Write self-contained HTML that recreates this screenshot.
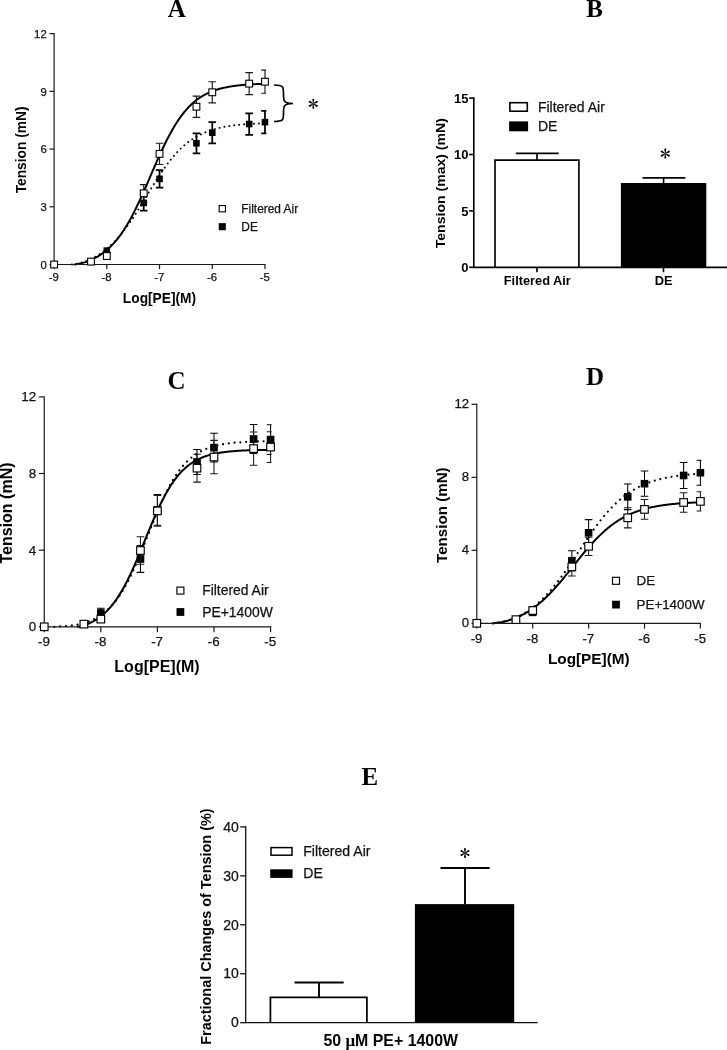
<!DOCTYPE html>
<html><head><meta charset="utf-8"><title>Figure</title>
<style>html,body{margin:0;padding:0;background:#fff}svg{display:block}</style>
</head><body>
<svg width="727" height="1050" viewBox="0 0 727 1050">
<rect width="727" height="1050" fill="#fff"/>
<g opacity="0.999">
<text transform="translate(176.7 16.7)" font-family="Liberation Serif" font-size="25" font-weight="bold" text-anchor="middle">A</text>
<text transform="translate(594.6 16.5)" font-family="Liberation Serif" font-size="25" font-weight="bold" text-anchor="middle">B</text>
<text transform="translate(176.6 388.6)" font-family="Liberation Serif" font-size="25" font-weight="bold" text-anchor="middle">C</text>
<text transform="translate(595.1 384.7)" font-family="Liberation Serif" font-size="25" font-weight="bold" text-anchor="middle">D</text>
<text transform="translate(369.9 785.2)" font-family="Liberation Serif" font-size="25" font-weight="bold" text-anchor="middle">E</text>
<path d="M72.02,264.5 L72.99,264.38 L73.96,264.25 L74.93,264.09 L75.9,263.93 L76.87,263.74 L77.84,263.54 L78.81,263.31 L79.78,263.08 L80.75,262.82 L81.72,262.54 L82.69,262.25 L83.66,261.94 L84.63,261.61 L85.6,261.26 L86.57,260.9 L87.54,260.51 L88.51,260.11 L89.48,259.68 L90.45,259.24 L91.42,258.78 L92.39,258.3 L93.36,257.8 L94.33,257.28 L95.3,256.73 L96.27,256.17 L97.24,255.59 L98.2,254.99 L99.17,254.37 L100.14,253.73 L101.11,253.07 L102.08,252.38 L103.05,251.68 L104.02,250.95 L104.99,250.21 L105.96,249.44 L106.93,248.65 L107.9,247.84 L108.87,247 L109.84,246.14 L110.81,245.25 L111.78,244.33 L112.75,243.39 L113.72,242.42 L114.69,241.43 L115.66,240.41 L116.63,239.36 L117.6,238.29 L118.57,237.19 L119.54,236.06 L120.51,234.91 L121.48,233.73 L122.45,232.52 L123.41,231.29 L124.38,230.03 L125.35,228.75 L126.32,227.44 L127.29,226.11 L128.26,224.76 L129.23,223.38 L130.2,221.98 L131.17,220.56 L132.14,219.12 L133.11,217.66 L134.08,216.18 L135.05,214.68 L136.02,213.17 L136.99,211.64 L137.96,210.1 L138.93,208.55 L139.9,206.99 L140.87,205.41 L141.84,203.83 L142.81,202.24 L143.78,200.64 L144.75,199.05 L145.72,197.44 L146.69,195.84 L147.66,194.24 L148.63,192.64 L149.59,191.04 L150.56,189.45 L151.53,187.87 L152.5,186.29 L153.47,184.72 L154.44,183.16 L155.41,181.62 L156.38,180.09 L157.35,178.57 L158.32,177.07 L159.29,175.58 L160.26,174.12 L161.23,172.67 L162.2,171.24 L163.17,169.83 L164.14,168.45 L165.11,167.09 L166.08,165.75 L167.05,164.43 L168.02,163.14 L168.99,161.87 L169.96,160.63 L170.93,159.42 L171.9,158.23 L172.87,157.07 L173.84,155.93 L174.8,154.82 L175.77,153.74 L176.74,152.68 L177.71,151.65 L178.68,150.65 L179.65,149.68 L180.62,148.73 L181.59,147.8 L182.56,146.9 L183.53,146.03 L184.5,145.19 L185.47,144.37 L186.44,143.57 L187.41,142.8 L188.38,142.05 L189.35,141.32 L190.32,140.62 L191.29,139.94 L192.26,139.28 L193.23,138.65 L194.2,138.03 L195.17,137.44 L196.14,136.87 L197.11,136.31 L198.08,135.78 L199.05,135.26 L200.02,134.76 L200.98,134.28 L201.95,133.82 L202.92,133.38 L203.89,132.95 L204.86,132.53 L205.83,132.13 L206.8,131.75 L207.77,131.38 L208.74,131.02 L209.71,130.68 L210.68,130.35 L211.65,130.03 L212.62,129.73 L213.59,129.43 L214.56,129.15 L215.53,128.88 L216.5,128.62 L217.47,128.37 L218.44,128.13 L219.41,127.9 L220.38,127.67 L221.35,127.46 L222.32,127.26 L223.29,127.06 L224.26,126.87 L225.23,126.69 L226.2,126.51 L227.16,126.35 L228.13,126.19 L229.1,126.03 L230.07,125.88 L231.04,125.74 L232.01,125.61 L232.98,125.48 L233.95,125.35 L234.92,125.23 L235.89,125.12 L236.86,125.01 L237.83,124.9 L238.8,124.8 L239.77,124.7 L240.74,124.61 L241.71,124.52 L242.68,124.43 L243.65,124.35 L244.62,124.27 L245.59,124.2 L246.56,124.12 L247.53,124.05 L248.5,123.99 L249.47,123.92 L250.44,123.86 L251.41,123.8 L252.37,123.75 L253.34,123.69 L254.31,123.64 L255.28,123.59 L256.25,123.55 L257.22,123.5 L258.19,123.46 L259.16,123.42 L260.13,123.38 L261.1,123.34 L262.07,123.3 L263.04,123.27 L264.01,123.23 L264.98,123.2" fill="none" stroke="#000" stroke-width="2" stroke-dasharray="0.01 4.95" stroke-linecap="round"/>
<path d="M74.13,264.5 L75.09,264.39 L76.05,264.26 L77.01,264.11 L77.97,263.95 L78.93,263.77 L79.89,263.58 L80.85,263.37 L81.81,263.14 L82.76,262.9 L83.72,262.63 L84.68,262.35 L85.64,262.05 L86.6,261.73 L87.56,261.39 L88.52,261.03 L89.48,260.66 L90.44,260.26 L91.4,259.84 L92.36,259.4 L93.31,258.94 L94.27,258.45 L95.23,257.95 L96.19,257.42 L97.15,256.87 L98.11,256.3 L99.07,255.71 L100.03,255.09 L100.99,254.44 L101.95,253.78 L102.9,253.09 L103.86,252.37 L104.82,251.63 L105.78,250.86 L106.74,250.07 L107.7,249.25 L108.66,248.39 L109.62,247.51 L110.58,246.59 L111.54,245.64 L112.49,244.65 L113.45,243.62 L114.41,242.56 L115.37,241.47 L116.33,240.33 L117.29,239.16 L118.25,237.94 L119.21,236.69 L120.17,235.4 L121.13,234.07 L122.08,232.69 L123.04,231.28 L124,229.82 L124.96,228.33 L125.92,226.79 L126.88,225.21 L127.84,223.59 L128.8,221.93 L129.76,220.23 L130.72,218.49 L131.68,216.72 L132.63,214.9 L133.59,213.05 L134.55,211.16 L135.51,209.24 L136.47,207.28 L137.43,205.29 L138.39,203.28 L139.35,201.23 L140.31,199.15 L141.27,197.05 L142.22,194.93 L143.18,192.79 L144.14,190.63 L145.1,188.45 L146.06,186.26 L147.02,184.05 L147.98,181.84 L148.94,179.62 L149.9,177.39 L150.86,175.17 L151.81,172.94 L152.77,170.72 L153.73,168.51 L154.69,166.3 L155.65,164.1 L156.61,161.92 L157.57,159.75 L158.53,157.6 L159.49,155.47 L160.45,153.37 L161.41,151.29 L162.36,149.23 L163.32,147.2 L164.28,145.21 L165.24,143.24 L166.2,141.31 L167.16,139.41 L168.12,137.55 L169.08,135.72 L170.04,133.93 L171,132.18 L171.95,130.47 L172.91,128.8 L173.87,127.17 L174.83,125.58 L175.79,124.03 L176.75,122.52 L177.71,121.06 L178.67,119.63 L179.63,118.25 L180.59,116.9 L181.54,115.6 L182.5,114.33 L183.46,113.11 L184.42,111.92 L185.38,110.78 L186.34,109.67 L187.3,108.6 L188.26,107.56 L189.22,106.57 L190.18,105.6 L191.13,104.67 L192.09,103.78 L193.05,102.92 L194.01,102.09 L194.97,101.29 L195.93,100.52 L196.89,99.78 L197.85,99.07 L198.81,98.38 L199.77,97.73 L200.73,97.1 L201.68,96.49 L202.64,95.91 L203.6,95.36 L204.56,94.82 L205.52,94.31 L206.48,93.82 L207.44,93.35 L208.4,92.9 L209.36,92.46 L210.32,92.05 L211.27,91.65 L212.23,91.27 L213.19,90.91 L214.15,90.56 L215.11,90.23 L216.07,89.91 L217.03,89.61 L217.99,89.32 L218.95,89.04 L219.91,88.77 L220.86,88.52 L221.82,88.28 L222.78,88.04 L223.74,87.82 L224.7,87.61 L225.66,87.41 L226.62,87.21 L227.58,87.03 L228.54,86.85 L229.5,86.68 L230.46,86.52 L231.41,86.37 L232.37,86.22 L233.33,86.08 L234.29,85.95 L235.25,85.82 L236.21,85.7 L237.17,85.58 L238.13,85.47 L239.09,85.37 L240.05,85.27 L241,85.17 L241.96,85.08 L242.92,84.99 L243.88,84.91 L244.84,84.83 L245.8,84.75 L246.76,84.68 L247.72,84.61 L248.68,84.54 L249.64,84.48 L250.59,84.42 L251.55,84.36 L252.51,84.31 L253.47,84.26 L254.43,84.21 L255.39,84.16 L256.35,84.11 L257.31,84.07 L258.27,84.03 L259.23,83.99 L260.18,83.95 L261.14,83.92 L262.1,83.88 L263.06,83.85 L264.02,83.82 L264.98,83.79" fill="none" stroke="#000" stroke-width="2"/>
<path d="M54.1,33.12 V264.5 H265.58" fill="none" stroke="#1a1a1a" stroke-width="1.2"/>
<path d="M54.1,264.5 h-4.6" stroke="#1a1a1a" stroke-width="1.2"/>
<text transform="translate(46.7 268.69)" font-family="Liberation Sans" font-size="11.3" text-anchor="end" fill="#111" stroke="#111" stroke-width="0.25">0</text>
<path d="M54.1,206.78 h-4.6" stroke="#1a1a1a" stroke-width="1.2"/>
<text transform="translate(46.7 210.97)" font-family="Liberation Sans" font-size="11.3" text-anchor="end" fill="#111" stroke="#111" stroke-width="0.25">3</text>
<path d="M54.1,149.06 h-4.6" stroke="#1a1a1a" stroke-width="1.2"/>
<text transform="translate(46.7 153.25)" font-family="Liberation Sans" font-size="11.3" text-anchor="end" fill="#111" stroke="#111" stroke-width="0.25">6</text>
<path d="M54.1,91.34 h-4.6" stroke="#1a1a1a" stroke-width="1.2"/>
<text transform="translate(46.7 95.53)" font-family="Liberation Sans" font-size="11.3" text-anchor="end" fill="#111" stroke="#111" stroke-width="0.25">9</text>
<path d="M54.1,33.62 h-4.6" stroke="#1a1a1a" stroke-width="1.2"/>
<text transform="translate(46.7 37.81)" font-family="Liberation Sans" font-size="11.3" text-anchor="end" fill="#111" stroke="#111" stroke-width="0.25">12</text>
<path d="M54.1,264.5 v4.6" stroke="#1a1a1a" stroke-width="1.2"/>
<text transform="translate(53.8 281.34)" font-family="Liberation Sans" font-size="11.3" text-anchor="middle" fill="#111" stroke="#111" stroke-width="0.25">-9</text>
<path d="M106.82,264.5 v4.6" stroke="#1a1a1a" stroke-width="1.2"/>
<text transform="translate(106.52 281.34)" font-family="Liberation Sans" font-size="11.3" text-anchor="middle" fill="#111" stroke="#111" stroke-width="0.25">-8</text>
<path d="M159.54,264.5 v4.6" stroke="#1a1a1a" stroke-width="1.2"/>
<text transform="translate(159.24 281.34)" font-family="Liberation Sans" font-size="11.3" text-anchor="middle" fill="#111" stroke="#111" stroke-width="0.25">-7</text>
<path d="M212.26,264.5 v4.6" stroke="#1a1a1a" stroke-width="1.2"/>
<text transform="translate(211.96 281.34)" font-family="Liberation Sans" font-size="11.3" text-anchor="middle" fill="#111" stroke="#111" stroke-width="0.25">-6</text>
<path d="M264.98,264.5 v4.6" stroke="#1a1a1a" stroke-width="1.2"/>
<text transform="translate(264.68 281.34)" font-family="Liberation Sans" font-size="11.3" text-anchor="middle" fill="#111" stroke="#111" stroke-width="0.25">-5</text>
<text transform="translate(25.8 149.9) rotate(-90)" font-family="Liberation Sans" font-size="13.75" font-weight="bold" text-anchor="middle">Tension (mN)</text>
<text transform="translate(159.5 302.7)" font-family="Liberation Sans" font-size="13.75" font-weight="bold" text-anchor="middle">Log[PE](M)</text>
<path d="M143.72,195.24 V210.63 M139.92,195.24 H147.52 M139.92,210.63 H147.52" fill="none" stroke="#000" stroke-width="1.75"/>
<path d="M159.54,170.22 V187.54 M155.74,170.22 H163.34 M155.74,187.54 H163.34" fill="none" stroke="#000" stroke-width="1.75"/>
<path d="M196.44,133.28 V153.29 M192.64,133.28 H200.24 M192.64,153.29 H200.24" fill="none" stroke="#000" stroke-width="1.75"/>
<path d="M212.26,122.12 V143.29 M208.46,122.12 H216.06 M208.46,143.29 H216.06" fill="none" stroke="#000" stroke-width="1.75"/>
<path d="M249.16,113.27 V134.82 M245.36,113.27 H252.96 M245.36,134.82 H252.96" fill="none" stroke="#000" stroke-width="1.75"/>
<path d="M264.98,110.96 V133.28 M261.18,110.96 H266.36 M261.18,133.28 H266.36" fill="none" stroke="#000" stroke-width="1.75"/>
<rect x="103.52" y="247.35" width="6.6" height="6.6" fill="#000"/>
<rect x="140.42" y="199.63" width="6.6" height="6.6" fill="#000"/>
<rect x="156.24" y="175.58" width="6.6" height="6.6" fill="#000"/>
<rect x="193.14" y="139.99" width="6.6" height="6.6" fill="#000"/>
<rect x="208.96" y="129.41" width="6.6" height="6.6" fill="#000"/>
<rect x="245.86" y="120.75" width="6.6" height="6.6" fill="#000"/>
<rect x="261.68" y="118.82" width="6.6" height="6.6" fill="#000"/>
<path d="M143.72,184.65 V201.97 M139.92,184.65 H147.52 M139.92,201.97 H147.52" fill="none" stroke="#1a1a1a" stroke-width="1.15"/>
<path d="M159.54,143.29 V164.45 M155.74,143.29 H163.34 M155.74,164.45 H163.34" fill="none" stroke="#1a1a1a" stroke-width="1.15"/>
<path d="M196.44,96.15 V117.31 M192.64,96.15 H200.24 M192.64,117.31 H200.24" fill="none" stroke="#1a1a1a" stroke-width="1.15"/>
<path d="M212.26,81.72 V102.88 M208.46,81.72 H216.06 M208.46,102.88 H216.06" fill="none" stroke="#1a1a1a" stroke-width="1.15"/>
<path d="M249.16,72.68 V94.61 M245.36,72.68 H252.96 M245.36,94.61 H252.96" fill="none" stroke="#1a1a1a" stroke-width="1.15"/>
<path d="M264.98,70.18 V93.26 M261.18,70.18 H266.06 M261.18,93.26 H266.06" fill="none" stroke="#1a1a1a" stroke-width="1.15"/>
<rect x="50.7" y="261.1" width="6.8" height="6.8" fill="#fff" stroke="#000" stroke-width="1.1"/>
<rect x="87.6" y="258.21" width="6.8" height="6.8" fill="#fff" stroke="#000" stroke-width="1.1"/>
<rect x="103.42" y="252.63" width="6.8" height="6.8" fill="#fff" stroke="#000" stroke-width="1.1"/>
<rect x="140.32" y="189.91" width="6.8" height="6.8" fill="#fff" stroke="#000" stroke-width="1.1"/>
<rect x="156.14" y="150.47" width="6.8" height="6.8" fill="#fff" stroke="#000" stroke-width="1.1"/>
<rect x="193.04" y="103.33" width="6.8" height="6.8" fill="#fff" stroke="#000" stroke-width="1.1"/>
<rect x="208.86" y="88.9" width="6.8" height="6.8" fill="#fff" stroke="#000" stroke-width="1.1"/>
<rect x="245.76" y="80.24" width="6.8" height="6.8" fill="#fff" stroke="#000" stroke-width="1.1"/>
<rect x="261.58" y="78.32" width="6.8" height="6.8" fill="#fff" stroke="#000" stroke-width="1.1"/>
<rect x="219.15" y="205.55" width="6.3" height="6.3" fill="#fff" stroke="#000" stroke-width="1.1"/>
<rect x="218.75" y="223.15" width="7.1" height="7.1" fill="#000"/>
<text transform="translate(241.3 212.63)" font-family="Liberation Sans" font-size="11.9" text-anchor="start" fill="#111" stroke="#111" stroke-width="0.25">Filtered Air</text>
<text transform="translate(241.3 230.63)" font-family="Liberation Sans" font-size="11.9" text-anchor="start" fill="#111" stroke="#111" stroke-width="0.25">DE</text>
<path d="M274,85 C284,85 283.5,87 283.5,95 C283.5,101 284,103.5 293,103.5 C284,103.5 283.5,106 283.5,112 C283.5,120 284,121.5 274,121.5" fill="none" stroke="#000" stroke-width="1.7"/>
<g transform="translate(313.3 103.8) scale(5.1)" fill="#000"><path d="M-0.06,-0.05 L-0.19,-0.78 Q-0.21,-1.0 0,-1.0 Q0.21,-1.0 0.19,-0.78 L0.06,-0.05 Z" transform="rotate(0)"/><path d="M-0.06,-0.05 L-0.19,-0.78 Q-0.21,-1.0 0,-1.0 Q0.21,-1.0 0.19,-0.78 L0.06,-0.05 Z" transform="rotate(60)"/><path d="M-0.06,-0.05 L-0.19,-0.78 Q-0.21,-1.0 0,-1.0 Q0.21,-1.0 0.19,-0.78 L0.06,-0.05 Z" transform="rotate(120)"/><path d="M-0.06,-0.05 L-0.19,-0.78 Q-0.21,-1.0 0,-1.0 Q0.21,-1.0 0.19,-0.78 L0.06,-0.05 Z" transform="rotate(180)"/><path d="M-0.06,-0.05 L-0.19,-0.78 Q-0.21,-1.0 0,-1.0 Q0.21,-1.0 0.19,-0.78 L0.06,-0.05 Z" transform="rotate(240)"/><path d="M-0.06,-0.05 L-0.19,-0.78 Q-0.21,-1.0 0,-1.0 Q0.21,-1.0 0.19,-0.78 L0.06,-0.05 Z" transform="rotate(300)"/></g>
<path d="M473.8,267.3 h-4.6" stroke="#000" stroke-width="1.65"/>
<text transform="translate(468.4 271.9)" font-family="Liberation Sans" font-size="13" font-weight="bold" text-anchor="end">0</text>
<path d="M473.8,210.9 h-4.6" stroke="#000" stroke-width="1.65"/>
<text transform="translate(468.4 215.5)" font-family="Liberation Sans" font-size="13" font-weight="bold" text-anchor="end">5</text>
<path d="M473.8,154.5 h-4.6" stroke="#000" stroke-width="1.65"/>
<text transform="translate(468.4 159.1)" font-family="Liberation Sans" font-size="13" font-weight="bold" text-anchor="end">10</text>
<path d="M473.8,98.1 h-4.6" stroke="#000" stroke-width="1.65"/>
<text transform="translate(468.4 102.7)" font-family="Liberation Sans" font-size="13" font-weight="bold" text-anchor="end">15</text>
<text transform="translate(445 183.2) rotate(-90) scale(1 0.96)" font-family="Liberation Sans" font-size="14.05" font-weight="bold" text-anchor="middle">Tension (max) (mN)</text>
<path d="M495,267.3 V160.1 H578.9 V267.3" fill="#fff" stroke="#000" stroke-width="1.65"/>
<path d="M537,160.1 V153.4 M515.8,153.4 H558.7" stroke="#000" stroke-width="1.65" fill="none"/>
<rect x="620.9" y="183" width="85.4" height="84.3" fill="#000"/>
<path d="M663.6,183 V177.8 M642.5,177.8 H685.4" stroke="#000" stroke-width="1.65" fill="none"/>
<path d="M537,267.3 v5 M663.5,267.3 v5" stroke="#000" stroke-width="1.65"/>
<text transform="translate(537.3 284.8)" font-family="Liberation Sans" font-size="12.8" font-weight="bold" text-anchor="middle">Filtered Air</text>
<text transform="translate(663.7 284.8)" font-family="Liberation Sans" font-size="12.9" font-weight="bold" text-anchor="middle">DE</text>
<g transform="translate(665.3 153.6) scale(5.1)" fill="#000"><path d="M-0.06,-0.05 L-0.19,-0.78 Q-0.21,-1.0 0,-1.0 Q0.21,-1.0 0.19,-0.78 L0.06,-0.05 Z" transform="rotate(0)"/><path d="M-0.06,-0.05 L-0.19,-0.78 Q-0.21,-1.0 0,-1.0 Q0.21,-1.0 0.19,-0.78 L0.06,-0.05 Z" transform="rotate(60)"/><path d="M-0.06,-0.05 L-0.19,-0.78 Q-0.21,-1.0 0,-1.0 Q0.21,-1.0 0.19,-0.78 L0.06,-0.05 Z" transform="rotate(120)"/><path d="M-0.06,-0.05 L-0.19,-0.78 Q-0.21,-1.0 0,-1.0 Q0.21,-1.0 0.19,-0.78 L0.06,-0.05 Z" transform="rotate(180)"/><path d="M-0.06,-0.05 L-0.19,-0.78 Q-0.21,-1.0 0,-1.0 Q0.21,-1.0 0.19,-0.78 L0.06,-0.05 Z" transform="rotate(240)"/><path d="M-0.06,-0.05 L-0.19,-0.78 Q-0.21,-1.0 0,-1.0 Q0.21,-1.0 0.19,-0.78 L0.06,-0.05 Z" transform="rotate(300)"/></g>
<path d="M473.8,97.2 V267.3 H727" fill="none" stroke="#000" stroke-width="1.65"/>
<rect x="509.9" y="102.7" width="17.4" height="8.5" fill="#fff" stroke="#000" stroke-width="1.6"/>
<rect x="509.1" y="121.4" width="19" height="9.9" fill="#000"/>
<text transform="translate(537.9 111.8)" font-family="Liberation Sans" font-size="14" text-anchor="start" fill="#111" stroke="#111" stroke-width="0.25">Filtered Air</text>
<text transform="translate(537.9 131.3)" font-family="Liberation Sans" font-size="14" text-anchor="start" fill="#111" stroke="#111" stroke-width="0.25">DE</text>
<path d="M54.43,626.8 L55.52,626.73 L56.61,626.67 L57.69,626.61 L58.78,626.54 L59.86,626.48 L60.95,626.41 L62.04,626.35 L63.12,626.27 L64.21,626.2 L65.3,626.12 L66.38,626.03 L67.47,625.94 L68.55,625.84 L69.64,625.73 L70.73,625.62 L71.81,625.49 L72.9,625.35 L73.98,625.2 L75.07,625.03 L76.16,624.86 L77.24,624.66 L78.33,624.45 L79.41,624.23 L80.5,623.99 L81.59,623.73 L82.67,623.45 L83.76,623.15 L84.85,622.83 L85.93,622.49 L87.02,622.13 L88.1,621.74 L89.19,621.33 L90.28,620.9 L91.36,620.43 L92.45,619.95 L93.53,619.43 L94.62,618.88 L95.71,618.31 L96.79,617.7 L97.88,617.07 L98.96,616.4 L100.05,615.7 L101.14,614.96 L102.22,614.19 L103.31,613.38 L104.4,612.53 L105.48,611.63 L106.57,610.69 L107.65,609.71 L108.74,608.68 L109.83,607.6 L110.91,606.47 L112,605.3 L113.08,604.06 L114.17,602.78 L115.26,601.43 L116.34,600.04 L117.43,598.58 L118.51,597.06 L119.6,595.49 L120.69,593.85 L121.77,592.16 L122.86,590.4 L123.95,588.58 L125.03,586.7 L126.12,584.76 L127.2,582.75 L128.29,580.69 L129.38,578.56 L130.46,576.38 L131.55,574.14 L132.63,571.85 L133.72,569.5 L134.81,567.1 L135.89,564.65 L136.98,562.16 L138.06,559.62 L139.15,557.05 L140.24,554.43 L141.32,551.79 L142.41,549.12 L143.5,546.43 L144.58,543.71 L145.67,540.98 L146.75,538.24 L147.84,535.5 L148.93,532.75 L150.01,530.01 L151.1,527.28 L152.18,524.56 L153.27,521.85 L154.36,519.17 L155.44,516.52 L156.53,513.89 L157.61,511.3 L158.7,508.75 L159.79,506.24 L160.87,503.77 L161.96,501.35 L163.05,498.98 L164.13,496.66 L165.22,494.4 L166.3,492.19 L167.39,490.04 L168.48,487.95 L169.56,485.92 L170.65,483.95 L171.73,482.05 L172.82,480.2 L173.91,478.42 L174.99,476.7 L176.08,475.03 L177.16,473.43 L178.25,471.89 L179.34,470.41 L180.42,468.99 L181.51,467.62 L182.6,466.31 L183.68,465.06 L184.77,463.86 L185.85,462.71 L186.94,461.61 L188.03,460.56 L189.11,459.56 L190.2,458.6 L191.28,457.69 L192.37,456.82 L193.46,455.99 L194.54,455.2 L195.63,454.45 L196.71,453.74 L197.8,453.06 L198.89,452.41 L199.97,451.8 L201.06,451.22 L202.15,450.67 L203.23,450.14 L204.32,449.64 L205.4,449.17 L206.49,448.73 L207.58,448.3 L208.66,447.9 L209.75,447.52 L210.83,447.16 L211.92,446.82 L213.01,446.5 L214.09,446.19 L215.18,445.9 L216.26,445.63 L217.35,445.37 L218.44,445.12 L219.52,444.89 L220.61,444.67 L221.7,444.47 L222.78,444.27 L223.87,444.09 L224.95,443.91 L226.04,443.75 L227.13,443.59 L228.21,443.44 L229.3,443.3 L230.38,443.17 L231.47,443.05 L232.56,442.93 L233.64,442.82 L234.73,442.72 L235.81,442.62 L236.9,442.52 L237.99,442.44 L239.07,442.35 L240.16,442.27 L241.25,442.2 L242.33,442.13 L243.42,442.06 L244.5,442 L245.59,441.94 L246.68,441.89 L247.76,441.83 L248.85,441.78 L249.93,441.74 L251.02,441.69 L252.11,441.65 L253.19,441.61 L254.28,441.58 L255.36,441.54 L256.45,441.51 L257.54,441.48 L258.62,441.45 L259.71,441.42 L260.8,441.39 L261.88,441.37 L262.97,441.35 L264.05,441.32 L265.14,441.3 L266.23,441.28 L267.31,441.27 L268.4,441.25 L269.48,441.23 L270.57,441.22" fill="none" stroke="#000" stroke-width="2.25" stroke-dasharray="0.01 5.8" stroke-linecap="round"/>
<path d="M77.07,626.8 L78.04,626.68 L79.01,626.53 L79.98,626.36 L80.96,626.16 L81.93,625.93 L82.9,625.68 L83.87,625.4 L84.85,625.1 L85.82,624.77 L86.79,624.41 L87.76,624.03 L88.73,623.61 L89.71,623.18 L90.68,622.72 L91.65,622.23 L92.62,621.71 L93.6,621.17 L94.57,620.6 L95.54,620.01 L96.51,619.38 L97.49,618.74 L98.46,618.06 L99.43,617.36 L100.4,616.64 L101.38,615.88 L102.35,615.1 L103.32,614.28 L104.29,613.42 L105.27,612.53 L106.24,611.6 L107.21,610.63 L108.18,609.62 L109.15,608.58 L110.13,607.49 L111.1,606.35 L112.07,605.18 L113.04,603.95 L114.02,602.69 L114.99,601.38 L115.96,600.02 L116.93,598.61 L117.91,597.16 L118.88,595.66 L119.85,594.11 L120.82,592.51 L121.8,590.87 L122.77,589.18 L123.74,587.44 L124.71,585.65 L125.69,583.81 L126.66,581.93 L127.63,580.01 L128.6,578.04 L129.57,576.02 L130.55,573.97 L131.52,571.88 L132.49,569.75 L133.46,567.58 L134.44,565.38 L135.41,563.15 L136.38,560.89 L137.35,558.6 L138.33,556.29 L139.3,553.96 L140.27,551.62 L141.24,549.25 L142.22,546.88 L143.19,544.5 L144.16,542.11 L145.13,539.72 L146.11,537.33 L147.08,534.95 L148.05,532.57 L149.02,530.21 L149.99,527.86 L150.97,525.53 L151.94,523.21 L152.91,520.93 L153.88,518.66 L154.86,516.43 L155.83,514.23 L156.8,512.06 L157.77,509.92 L158.75,507.83 L159.72,505.77 L160.69,503.75 L161.66,501.78 L162.64,499.85 L163.61,497.97 L164.58,496.13 L165.55,494.33 L166.53,492.59 L167.5,490.89 L168.47,489.24 L169.44,487.64 L170.41,486.09 L171.39,484.58 L172.36,483.13 L173.33,481.72 L174.3,480.35 L175.28,479.04 L176.25,477.77 L177.22,476.54 L178.19,475.36 L179.17,474.23 L180.14,473.13 L181.11,472.08 L182.08,471.07 L183.06,470.1 L184.03,469.16 L185,468.27 L185.97,467.41 L186.95,466.58 L187.92,465.8 L188.89,465.04 L189.86,464.32 L190.83,463.62 L191.81,462.96 L192.78,462.33 L193.75,461.72 L194.72,461.14 L195.7,460.59 L196.67,460.06 L197.64,459.56 L198.61,459.08 L199.59,458.62 L200.56,458.18 L201.53,457.77 L202.5,457.37 L203.48,456.99 L204.45,456.63 L205.42,456.28 L206.39,455.95 L207.37,455.64 L208.34,455.34 L209.31,455.06 L210.28,454.79 L211.25,454.54 L212.23,454.29 L213.2,454.06 L214.17,453.84 L215.14,453.63 L216.12,453.43 L217.09,453.24 L218.06,453.06 L219.03,452.89 L220.01,452.72 L220.98,452.57 L221.95,452.42 L222.92,452.28 L223.9,452.14 L224.87,452.02 L225.84,451.9 L226.81,451.78 L227.79,451.67 L228.76,451.57 L229.73,451.47 L230.7,451.38 L231.67,451.29 L232.65,451.21 L233.62,451.13 L234.59,451.05 L235.56,450.98 L236.54,450.91 L237.51,450.85 L238.48,450.78 L239.45,450.73 L240.43,450.67 L241.4,450.62 L242.37,450.57 L243.34,450.52 L244.32,450.47 L245.29,450.43 L246.26,450.39 L247.23,450.35 L248.21,450.31 L249.18,450.28 L250.15,450.25 L251.12,450.22 L252.09,450.19 L253.07,450.16 L254.04,450.13 L255.01,450.1 L255.98,450.08 L256.96,450.06 L257.93,450.04 L258.9,450.02 L259.87,450 L260.85,449.98 L261.82,449.96 L262.79,449.94 L263.76,449.93 L264.74,449.91 L265.71,449.9 L266.68,449.88 L267.65,449.87 L268.63,449.86 L269.6,449.85 L270.57,449.84" fill="none" stroke="#000" stroke-width="2"/>
<path d="M44.25,396.38 V626.8 H271.17" fill="none" stroke="#1a1a1a" stroke-width="1.2"/>
<path d="M44.25,626.8 h-5.4" stroke="#1a1a1a" stroke-width="1.2"/>
<text transform="translate(36.25 631.29)" font-family="Liberation Sans" font-size="13.4" text-anchor="end" fill="#111" stroke="#111" stroke-width="0.25">0</text>
<path d="M44.25,550.16 h-5.4" stroke="#1a1a1a" stroke-width="1.2"/>
<text transform="translate(36.25 554.65)" font-family="Liberation Sans" font-size="13.4" text-anchor="end" fill="#111" stroke="#111" stroke-width="0.25">4</text>
<path d="M44.25,473.52 h-5.4" stroke="#1a1a1a" stroke-width="1.2"/>
<text transform="translate(36.25 478.01)" font-family="Liberation Sans" font-size="13.4" text-anchor="end" fill="#111" stroke="#111" stroke-width="0.25">8</text>
<path d="M44.25,396.88 h-5.4" stroke="#1a1a1a" stroke-width="1.2"/>
<text transform="translate(36.25 401.37)" font-family="Liberation Sans" font-size="13.4" text-anchor="end" fill="#111" stroke="#111" stroke-width="0.25">12</text>
<path d="M44.25,626.8 v5.4" stroke="#1a1a1a" stroke-width="1.2"/>
<text transform="translate(43.95 646.35)" font-family="Liberation Sans" font-size="13.4" text-anchor="middle" fill="#111" stroke="#111" stroke-width="0.25">-9</text>
<path d="M100.83,626.8 v5.4" stroke="#1a1a1a" stroke-width="1.2"/>
<text transform="translate(100.53 646.35)" font-family="Liberation Sans" font-size="13.4" text-anchor="middle" fill="#111" stroke="#111" stroke-width="0.25">-8</text>
<path d="M157.41,626.8 v5.4" stroke="#1a1a1a" stroke-width="1.2"/>
<text transform="translate(157.11 646.35)" font-family="Liberation Sans" font-size="13.4" text-anchor="middle" fill="#111" stroke="#111" stroke-width="0.25">-7</text>
<path d="M213.99,626.8 v5.4" stroke="#1a1a1a" stroke-width="1.2"/>
<text transform="translate(213.69 646.35)" font-family="Liberation Sans" font-size="13.4" text-anchor="middle" fill="#111" stroke="#111" stroke-width="0.25">-6</text>
<path d="M270.57,626.8 v5.4" stroke="#1a1a1a" stroke-width="1.2"/>
<text transform="translate(270.27 646.35)" font-family="Liberation Sans" font-size="13.4" text-anchor="middle" fill="#111" stroke="#111" stroke-width="0.25">-5</text>
<text transform="translate(11.9 513) rotate(-90)" font-family="Liberation Sans" font-size="16" font-weight="bold" text-anchor="middle">Tension (mN)</text>
<text transform="translate(157 671.6)" font-family="Liberation Sans" font-size="16" font-weight="bold" text-anchor="middle">Log[PE](M)</text>
<path d="M100.83,608.21 V617.79 M97.03,608.21 H104.63 M97.03,617.79 H104.63" fill="none" stroke="#000" stroke-width="1.05"/>
<path d="M140.44,545.56 V572.39 M136.64,545.56 H144.24 M136.64,572.39 H144.24" fill="none" stroke="#000" stroke-width="1.05"/>
<path d="M157.41,494.6 V525.25 M153.61,494.6 H161.21 M153.61,525.25 H161.21" fill="none" stroke="#000" stroke-width="1.05"/>
<path d="M197.02,449.57 V474.48 M193.22,449.57 H200.82 M193.22,474.48 H200.82" fill="none" stroke="#000" stroke-width="1.05"/>
<path d="M213.99,433.28 V462.02 M210.19,433.28 H217.79 M210.19,462.02 H217.79" fill="none" stroke="#000" stroke-width="1.05"/>
<path d="M253.6,424.47 V453.59 M249.8,424.47 H257.4 M249.8,453.59 H257.4" fill="none" stroke="#000" stroke-width="1.05"/>
<path d="M270.57,424.66 V454.55 M266.77,424.66 H271.59 M266.77,454.55 H271.59" fill="none" stroke="#000" stroke-width="1.05"/>
<rect x="96.98" y="609.15" width="7.7" height="7.7" fill="#000"/>
<rect x="136.59" y="555.12" width="7.7" height="7.7" fill="#000"/>
<rect x="153.56" y="506.07" width="7.7" height="7.7" fill="#000"/>
<rect x="193.17" y="458.17" width="7.7" height="7.7" fill="#000"/>
<rect x="210.14" y="443.8" width="7.7" height="7.7" fill="#000"/>
<rect x="249.75" y="435.18" width="7.7" height="7.7" fill="#000"/>
<rect x="266.72" y="435.76" width="7.7" height="7.7" fill="#000"/>
<path d="M140.44,536.75 V564.34 M136.64,536.75 H144.24 M136.64,564.34 H144.24" fill="none" stroke="#1a1a1a" stroke-width="1.05"/>
<path d="M157.41,495.55 V526.21 M153.61,495.55 H161.21 M153.61,526.21 H161.21" fill="none" stroke="#1a1a1a" stroke-width="1.05"/>
<path d="M197.02,454.17 V482.14 M193.22,454.17 H200.82 M193.22,482.14 H200.82" fill="none" stroke="#1a1a1a" stroke-width="1.05"/>
<path d="M213.99,440.37 V473.71 M210.19,440.37 H217.79 M210.19,473.71 H217.79" fill="none" stroke="#1a1a1a" stroke-width="1.05"/>
<path d="M253.6,431.94 V465.28 M249.8,431.94 H257.4 M249.8,465.28 H257.4" fill="none" stroke="#1a1a1a" stroke-width="1.05"/>
<path d="M270.57,431.75 V462.41 M266.77,431.75 H271.59 M266.77,462.41 H271.59" fill="none" stroke="#1a1a1a" stroke-width="1.05"/>
<rect x="40.45" y="623" width="7.6" height="7.6" fill="#fff" stroke="#000" stroke-width="1.15"/>
<rect x="80.06" y="620.32" width="7.6" height="7.6" fill="#fff" stroke="#000" stroke-width="1.15"/>
<rect x="97.03" y="615.34" width="7.6" height="7.6" fill="#fff" stroke="#000" stroke-width="1.15"/>
<rect x="136.64" y="546.74" width="7.6" height="7.6" fill="#fff" stroke="#000" stroke-width="1.15"/>
<rect x="153.61" y="507.08" width="7.6" height="7.6" fill="#fff" stroke="#000" stroke-width="1.15"/>
<rect x="193.22" y="464.36" width="7.6" height="7.6" fill="#fff" stroke="#000" stroke-width="1.15"/>
<rect x="210.19" y="453.24" width="7.6" height="7.6" fill="#fff" stroke="#000" stroke-width="1.15"/>
<rect x="249.8" y="444.81" width="7.6" height="7.6" fill="#fff" stroke="#000" stroke-width="1.15"/>
<rect x="266.77" y="443.28" width="7.6" height="7.6" fill="#fff" stroke="#000" stroke-width="1.15"/>
<rect x="176.9" y="587.1" width="7" height="7" fill="#fff" stroke="#000" stroke-width="1.15"/>
<rect x="176.5" y="608.1" width="7.8" height="7.8" fill="#000"/>
<text transform="translate(202.2 595.19)" font-family="Liberation Sans" font-size="13.9" text-anchor="start" fill="#111" stroke="#111" stroke-width="0.25">Filtered Air</text>
<text transform="translate(202.2 616.59)" font-family="Liberation Sans" font-size="13.9" text-anchor="start" fill="#111" stroke="#111" stroke-width="0.25">PE+1400W</text>
<path d="M493.01,623.3 L494.05,623.19 L495.1,623.07 L496.14,622.93 L497.18,622.79 L498.22,622.63 L499.26,622.45 L500.31,622.26 L501.35,622.06 L502.39,621.84 L503.43,621.61 L504.47,621.36 L505.52,621.09 L506.56,620.81 L507.6,620.52 L508.64,620.2 L509.69,619.87 L510.73,619.52 L511.77,619.16 L512.81,618.78 L513.85,618.37 L514.9,617.95 L515.94,617.52 L516.98,617.06 L518.02,616.58 L519.06,616.08 L520.11,615.56 L521.15,615.02 L522.19,614.46 L523.23,613.88 L524.28,613.28 L525.32,612.66 L526.36,612.01 L527.4,611.34 L528.44,610.65 L529.49,609.93 L530.53,609.2 L531.57,608.43 L532.61,607.65 L533.66,606.84 L534.7,606 L535.74,605.15 L536.78,604.27 L537.82,603.37 L538.87,602.45 L539.91,601.5 L540.95,600.53 L541.99,599.53 L543.03,598.51 L544.08,597.47 L545.12,596.4 L546.16,595.31 L547.2,594.2 L548.25,593.06 L549.29,591.89 L550.33,590.71 L551.37,589.5 L552.41,588.27 L553.46,587.02 L554.5,585.74 L555.54,584.44 L556.58,583.12 L557.62,581.78 L558.67,580.42 L559.71,579.05 L560.75,577.65 L561.79,576.23 L562.84,574.8 L563.88,573.35 L564.92,571.88 L565.96,570.4 L567,568.91 L568.05,567.4 L569.09,565.89 L570.13,564.36 L571.17,562.82 L572.21,561.27 L573.26,559.72 L574.3,558.16 L575.34,556.59 L576.38,555.03 L577.43,553.45 L578.47,551.88 L579.51,550.31 L580.55,548.74 L581.59,547.17 L582.64,545.6 L583.68,544.04 L584.72,542.49 L585.76,540.94 L586.81,539.4 L587.85,537.87 L588.89,536.35 L589.93,534.85 L590.97,533.35 L592.02,531.87 L593.06,530.41 L594.1,528.95 L595.14,527.52 L596.18,526.1 L597.23,524.7 L598.27,523.32 L599.31,521.96 L600.35,520.62 L601.4,519.3 L602.44,518 L603.48,516.72 L604.52,515.47 L605.56,514.23 L606.61,513.02 L607.65,511.83 L608.69,510.67 L609.73,509.53 L610.77,508.41 L611.82,507.32 L612.86,506.25 L613.9,505.2 L614.94,504.18 L615.99,503.18 L617.03,502.21 L618.07,501.26 L619.11,500.33 L620.15,499.43 L621.2,498.55 L622.24,497.69 L623.28,496.86 L624.32,496.05 L625.36,495.26 L626.41,494.49 L627.45,493.74 L628.49,493.02 L629.53,492.31 L630.58,491.63 L631.62,490.97 L632.66,490.32 L633.7,489.7 L634.74,489.09 L635.79,488.51 L636.83,487.94 L637.87,487.39 L638.91,486.85 L639.95,486.33 L641,485.83 L642.04,485.35 L643.08,484.88 L644.12,484.43 L645.17,483.99 L646.21,483.57 L647.25,483.16 L648.29,482.76 L649.33,482.38 L650.38,482.01 L651.42,481.65 L652.46,481.31 L653.5,480.97 L654.55,480.65 L655.59,480.34 L656.63,480.04 L657.67,479.75 L658.71,479.48 L659.76,479.21 L660.8,478.95 L661.84,478.7 L662.88,478.46 L663.92,478.22 L664.97,478 L666.01,477.78 L667.05,477.57 L668.09,477.37 L669.14,477.18 L670.18,476.99 L671.22,476.81 L672.26,476.64 L673.3,476.47 L674.35,476.31 L675.39,476.16 L676.43,476.01 L677.47,475.86 L678.51,475.73 L679.56,475.59 L680.6,475.46 L681.64,475.34 L682.68,475.22 L683.73,475.11 L684.77,475 L685.81,474.89 L686.85,474.79 L687.89,474.69 L688.94,474.6 L689.98,474.51 L691.02,474.42 L692.06,474.33 L693.1,474.25 L694.15,474.17 L695.19,474.1 L696.23,474.03 L697.27,473.96 L698.32,473.89 L699.36,473.83 L700.4,473.76" fill="none" stroke="#000" stroke-width="2.2" stroke-dasharray="0.01 5.7" stroke-linecap="round"/>
<path d="M493.01,623.3 L494.05,623.2 L495.1,623.08 L496.14,622.95 L497.18,622.81 L498.22,622.66 L499.26,622.5 L500.31,622.32 L501.35,622.12 L502.39,621.92 L503.43,621.69 L504.47,621.46 L505.52,621.21 L506.56,620.94 L507.6,620.66 L508.64,620.36 L509.69,620.05 L510.73,619.72 L511.77,619.37 L512.81,619.01 L513.85,618.63 L514.9,618.24 L515.94,617.82 L516.98,617.39 L518.02,616.94 L519.06,616.48 L520.11,615.99 L521.15,615.48 L522.19,614.96 L523.23,614.42 L524.28,613.86 L525.32,613.27 L526.36,612.67 L527.4,612.05 L528.44,611.4 L529.49,610.74 L530.53,610.05 L531.57,609.35 L532.61,608.62 L533.66,607.87 L534.7,607.1 L535.74,606.31 L536.78,605.5 L537.82,604.67 L538.87,603.82 L539.91,602.95 L540.95,602.05 L541.99,601.14 L543.03,600.21 L544.08,599.26 L545.12,598.28 L546.16,597.29 L547.2,596.28 L548.25,595.25 L549.29,594.2 L550.33,593.13 L551.37,592.04 L552.41,590.93 L553.46,589.81 L554.5,588.67 L555.54,587.51 L556.58,586.34 L557.62,585.15 L558.67,583.95 L559.71,582.74 L560.75,581.51 L561.79,580.27 L562.84,579.02 L563.88,577.76 L564.92,576.49 L565.96,575.21 L567,573.92 L568.05,572.63 L569.09,571.33 L570.13,570.03 L571.17,568.72 L572.21,567.41 L573.26,566.1 L574.3,564.79 L575.34,563.48 L576.38,562.18 L577.43,560.87 L578.47,559.58 L579.51,558.28 L580.55,556.99 L581.59,555.71 L582.64,554.44 L583.68,553.18 L584.72,551.93 L585.76,550.68 L586.81,549.45 L587.85,548.24 L588.89,547.03 L589.93,545.84 L590.97,544.67 L592.02,543.51 L593.06,542.37 L594.1,541.24 L595.14,540.13 L596.18,539.04 L597.23,537.97 L598.27,536.92 L599.31,535.88 L600.35,534.87 L601.4,533.87 L602.44,532.9 L603.48,531.94 L604.52,531.01 L605.56,530.09 L606.61,529.2 L607.65,528.32 L608.69,527.47 L609.73,526.63 L610.77,525.82 L611.82,525.03 L612.86,524.26 L613.9,523.5 L614.94,522.77 L615.99,522.06 L617.03,521.36 L618.07,520.69 L619.11,520.03 L620.15,519.4 L621.2,518.78 L622.24,518.18 L623.28,517.59 L624.32,517.03 L625.36,516.48 L626.41,515.95 L627.45,515.43 L628.49,514.93 L629.53,514.45 L630.58,513.98 L631.62,513.53 L632.66,513.09 L633.7,512.67 L634.74,512.26 L635.79,511.86 L636.83,511.48 L637.87,511.11 L638.91,510.75 L639.95,510.41 L641,510.07 L642.04,509.75 L643.08,509.44 L644.12,509.14 L645.17,508.85 L646.21,508.57 L647.25,508.3 L648.29,508.04 L649.33,507.79 L650.38,507.55 L651.42,507.31 L652.46,507.09 L653.5,506.87 L654.55,506.67 L655.59,506.46 L656.63,506.27 L657.67,506.08 L658.71,505.91 L659.76,505.73 L660.8,505.57 L661.84,505.41 L662.88,505.25 L663.92,505.1 L664.97,504.96 L666.01,504.82 L667.05,504.69 L668.09,504.56 L669.14,504.44 L670.18,504.32 L671.22,504.21 L672.26,504.1 L673.3,503.99 L674.35,503.89 L675.39,503.8 L676.43,503.7 L677.47,503.61 L678.51,503.53 L679.56,503.44 L680.6,503.36 L681.64,503.29 L682.68,503.21 L683.73,503.14 L684.77,503.07 L685.81,503.01 L686.85,502.95 L687.89,502.89 L688.94,502.83 L689.98,502.77 L691.02,502.72 L692.06,502.67 L693.1,502.62 L694.15,502.57 L695.19,502.52 L696.23,502.48 L697.27,502.44 L698.32,502.4 L699.36,502.36 L700.4,502.32" fill="none" stroke="#000" stroke-width="2"/>
<path d="M476.8,403.8 V623.3 H701" fill="none" stroke="#1a1a1a" stroke-width="1.2"/>
<path d="M476.8,623.3 h-5.3" stroke="#1a1a1a" stroke-width="1.2"/>
<text transform="translate(469.2 627.22)" font-family="Liberation Sans" font-size="13.2" text-anchor="end" fill="#111" stroke="#111" stroke-width="0.25">0</text>
<path d="M476.8,550.3 h-5.3" stroke="#1a1a1a" stroke-width="1.2"/>
<text transform="translate(469.2 554.22)" font-family="Liberation Sans" font-size="13.2" text-anchor="end" fill="#111" stroke="#111" stroke-width="0.25">4</text>
<path d="M476.8,477.3 h-5.3" stroke="#1a1a1a" stroke-width="1.2"/>
<text transform="translate(469.2 481.22)" font-family="Liberation Sans" font-size="13.2" text-anchor="end" fill="#111" stroke="#111" stroke-width="0.25">8</text>
<path d="M476.8,404.3 h-5.3" stroke="#1a1a1a" stroke-width="1.2"/>
<text transform="translate(469.2 408.22)" font-family="Liberation Sans" font-size="13.2" text-anchor="end" fill="#111" stroke="#111" stroke-width="0.25">12</text>
<path d="M476.8,623.3 v5.3" stroke="#1a1a1a" stroke-width="1.2"/>
<text transform="translate(476.5 643)" font-family="Liberation Sans" font-size="13.2" text-anchor="middle" fill="#111" stroke="#111" stroke-width="0.25">-9</text>
<path d="M532.7,623.3 v5.3" stroke="#1a1a1a" stroke-width="1.2"/>
<text transform="translate(532.4 643)" font-family="Liberation Sans" font-size="13.2" text-anchor="middle" fill="#111" stroke="#111" stroke-width="0.25">-8</text>
<path d="M588.6,623.3 v5.3" stroke="#1a1a1a" stroke-width="1.2"/>
<text transform="translate(588.3 643)" font-family="Liberation Sans" font-size="13.2" text-anchor="middle" fill="#111" stroke="#111" stroke-width="0.25">-7</text>
<path d="M644.5,623.3 v5.3" stroke="#1a1a1a" stroke-width="1.2"/>
<text transform="translate(644.2 643)" font-family="Liberation Sans" font-size="13.2" text-anchor="middle" fill="#111" stroke="#111" stroke-width="0.25">-6</text>
<path d="M700.4,623.3 v5.3" stroke="#1a1a1a" stroke-width="1.2"/>
<text transform="translate(700.1 643)" font-family="Liberation Sans" font-size="13.2" text-anchor="middle" fill="#111" stroke="#111" stroke-width="0.25">-5</text>
<text transform="translate(447 515.2) rotate(-90)" font-family="Liberation Sans" font-size="15.15" font-weight="bold" text-anchor="middle">Tension (mN)</text>
<text transform="translate(588.8 664.4)" font-family="Liberation Sans" font-size="15.35" font-weight="bold" text-anchor="middle">Log[PE](M)</text>
<path d="M571.83,550.66 V570.74 M568.03,550.66 H575.63 M568.03,570.74 H575.63" fill="none" stroke="#000" stroke-width="1.05"/>
<path d="M588.6,519.64 V545.92 M584.8,519.64 H592.4 M584.8,545.92 H592.4" fill="none" stroke="#000" stroke-width="1.05"/>
<path d="M627.73,484.05 V509.6 M623.93,484.05 H631.53 M623.93,509.6 H631.53" fill="none" stroke="#000" stroke-width="1.05"/>
<path d="M644.5,471.09 V496.28 M640.7,471.09 H648.3 M640.7,496.28 H648.3" fill="none" stroke="#000" stroke-width="1.05"/>
<path d="M683.63,462.52 V488.43 M679.83,462.52 H687.43 M679.83,488.43 H687.43" fill="none" stroke="#000" stroke-width="1.05"/>
<path d="M700.4,460.33 V485.15 M696.6,460.33 H701.42 M696.6,485.15 H701.42" fill="none" stroke="#000" stroke-width="1.05"/>
<rect x="528.9" y="608.55" width="7.6" height="7.6" fill="#000"/>
<rect x="568.03" y="556.9" width="7.6" height="7.6" fill="#000"/>
<rect x="584.8" y="528.98" width="7.6" height="7.6" fill="#000"/>
<rect x="623.93" y="493.03" width="7.6" height="7.6" fill="#000"/>
<rect x="640.7" y="479.89" width="7.6" height="7.6" fill="#000"/>
<rect x="679.83" y="471.67" width="7.6" height="7.6" fill="#000"/>
<rect x="696.6" y="468.94" width="7.6" height="7.6" fill="#000"/>
<path d="M532.7,606.88 V614.17 M528.9,606.88 H536.5 M528.9,614.17 H536.5" fill="none" stroke="#1a1a1a" stroke-width="1.05"/>
<path d="M571.83,557.78 V576.03 M568.03,557.78 H575.63 M568.03,576.03 H575.63" fill="none" stroke="#1a1a1a" stroke-width="1.05"/>
<path d="M588.6,537.16 V555.41 M584.8,537.16 H592.4 M584.8,555.41 H592.4" fill="none" stroke="#1a1a1a" stroke-width="1.05"/>
<path d="M627.73,507.78 V527.85 M623.93,507.78 H631.53 M623.93,527.85 H631.53" fill="none" stroke="#1a1a1a" stroke-width="1.05"/>
<path d="M644.5,499.56 V519.27 M640.7,499.56 H648.3 M640.7,519.27 H648.3" fill="none" stroke="#1a1a1a" stroke-width="1.05"/>
<path d="M683.63,492.81 V512.16 M679.83,492.81 H687.43 M679.83,512.16 H687.43" fill="none" stroke="#1a1a1a" stroke-width="1.05"/>
<path d="M700.4,491.72 V511.06 M696.6,491.72 H701.42 M696.6,511.06 H701.42" fill="none" stroke="#1a1a1a" stroke-width="1.05"/>
<rect x="473" y="619.5" width="7.6" height="7.6" fill="#fff" stroke="#000" stroke-width="1.15"/>
<rect x="512.13" y="615.85" width="7.6" height="7.6" fill="#fff" stroke="#000" stroke-width="1.15"/>
<rect x="528.9" y="606.73" width="7.6" height="7.6" fill="#fff" stroke="#000" stroke-width="1.15"/>
<rect x="568.03" y="563.11" width="7.6" height="7.6" fill="#fff" stroke="#000" stroke-width="1.15"/>
<rect x="584.8" y="542.49" width="7.6" height="7.6" fill="#fff" stroke="#000" stroke-width="1.15"/>
<rect x="623.93" y="514.01" width="7.6" height="7.6" fill="#fff" stroke="#000" stroke-width="1.15"/>
<rect x="640.7" y="505.62" width="7.6" height="7.6" fill="#fff" stroke="#000" stroke-width="1.15"/>
<rect x="679.83" y="498.68" width="7.6" height="7.6" fill="#fff" stroke="#000" stroke-width="1.15"/>
<rect x="696.6" y="497.59" width="7.6" height="7.6" fill="#fff" stroke="#000" stroke-width="1.15"/>
<rect x="612.5" y="577.3" width="7" height="7" fill="#fff" stroke="#000" stroke-width="1.15"/>
<rect x="612.1" y="600.7" width="7.8" height="7.8" fill="#000"/>
<text transform="translate(636.6 585.21)" font-family="Liberation Sans" font-size="13.35" text-anchor="start" fill="#111" stroke="#111" stroke-width="0.25">DE</text>
<text transform="translate(636.6 609.01)" font-family="Liberation Sans" font-size="13.35" text-anchor="start" fill="#111" stroke="#111" stroke-width="0.25">PE+1400W</text>
<path d="M245.7,1022.7 h-5.5" stroke="#111" stroke-width="1.3"/>
<text transform="translate(238.8 1027.4)" font-family="Liberation Sans" font-size="14" text-anchor="end" fill="#111" stroke="#111" stroke-width="0.25">0</text>
<path d="M245.7,973.75 h-5.5" stroke="#111" stroke-width="1.3"/>
<text transform="translate(238.8 978.45)" font-family="Liberation Sans" font-size="14" text-anchor="end" fill="#111" stroke="#111" stroke-width="0.25">10</text>
<path d="M245.7,924.8 h-5.5" stroke="#111" stroke-width="1.3"/>
<text transform="translate(238.8 929.5)" font-family="Liberation Sans" font-size="14" text-anchor="end" fill="#111" stroke="#111" stroke-width="0.25">20</text>
<path d="M245.7,875.85 h-5.5" stroke="#111" stroke-width="1.3"/>
<text transform="translate(238.8 880.55)" font-family="Liberation Sans" font-size="14" text-anchor="end" fill="#111" stroke="#111" stroke-width="0.25">30</text>
<path d="M245.7,826.9 h-5.5" stroke="#111" stroke-width="1.3"/>
<text transform="translate(238.8 831.6)" font-family="Liberation Sans" font-size="14" text-anchor="end" fill="#111" stroke="#111" stroke-width="0.25">40</text>
<text transform="translate(211.3 926.6) rotate(-90) scale(1 0.96)" font-family="Liberation Sans" font-size="14.45" font-weight="bold" text-anchor="middle">Fractional Changes of Tension (%)</text>
<path d="M270.4,1022.7 V997.3 H366.9 V1022.7" fill="#fff" stroke="#000" stroke-width="1.75"/>
<path d="M319,997.3 V982.5 M294.5,982.5 H343.7" stroke="#000" stroke-width="1.9" fill="none"/>
<rect x="414.9" y="904.1" width="99.3" height="118.6" fill="#000"/>
<path d="M465,904.1 V868 M440.5,868 H489.6" stroke="#000" stroke-width="1.9" fill="none"/>
<g transform="translate(465 853) scale(5.1)" fill="#000"><path d="M-0.06,-0.05 L-0.19,-0.78 Q-0.21,-1.0 0,-1.0 Q0.21,-1.0 0.19,-0.78 L0.06,-0.05 Z" transform="rotate(0)"/><path d="M-0.06,-0.05 L-0.19,-0.78 Q-0.21,-1.0 0,-1.0 Q0.21,-1.0 0.19,-0.78 L0.06,-0.05 Z" transform="rotate(60)"/><path d="M-0.06,-0.05 L-0.19,-0.78 Q-0.21,-1.0 0,-1.0 Q0.21,-1.0 0.19,-0.78 L0.06,-0.05 Z" transform="rotate(120)"/><path d="M-0.06,-0.05 L-0.19,-0.78 Q-0.21,-1.0 0,-1.0 Q0.21,-1.0 0.19,-0.78 L0.06,-0.05 Z" transform="rotate(180)"/><path d="M-0.06,-0.05 L-0.19,-0.78 Q-0.21,-1.0 0,-1.0 Q0.21,-1.0 0.19,-0.78 L0.06,-0.05 Z" transform="rotate(240)"/><path d="M-0.06,-0.05 L-0.19,-0.78 Q-0.21,-1.0 0,-1.0 Q0.21,-1.0 0.19,-0.78 L0.06,-0.05 Z" transform="rotate(300)"/></g>
<path d="M245.7,826.3 V1022.7 H537.7" fill="none" stroke="#111" stroke-width="1.3"/>
<rect x="271" y="847.6" width="21" height="7.6" fill="#fff" stroke="#000" stroke-width="1.5"/>
<rect x="270.2" y="869.3" width="22.4" height="8.6" fill="#000"/>
<text transform="translate(303.2 856.2)" font-family="Liberation Sans" font-size="14.1" text-anchor="start" fill="#111" stroke="#111" stroke-width="0.25">Filtered Air</text>
<text transform="translate(303.2 878.2)" font-family="Liberation Sans" font-size="14.1" text-anchor="start" fill="#111" stroke="#111" stroke-width="0.25">DE</text>
<text transform="translate(390.7 1045.7) scale(1 1)" font-size="15.9" font-weight="bold" text-anchor="middle" font-family="Liberation Sans">50 <tspan font-family="Liberation Serif" font-weight="bold" font-size="17">&#956;</tspan>M PE+ 1400W</text>
</g></svg></body></html>
